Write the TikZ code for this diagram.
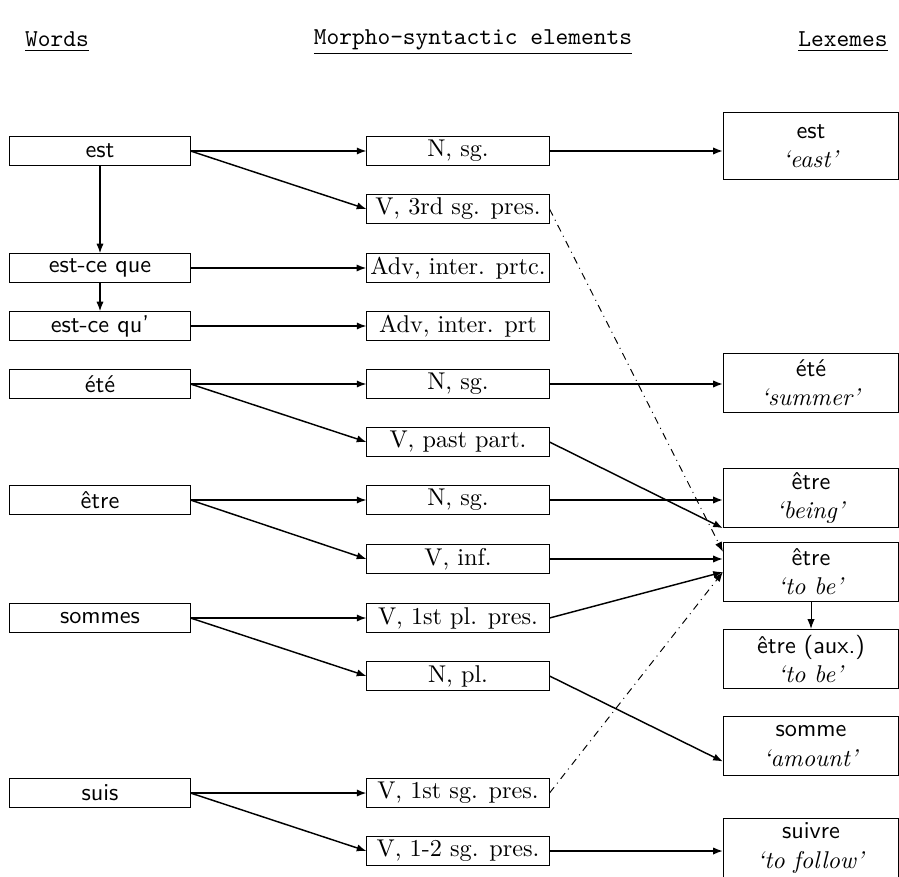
\documentclass[tikz,border=0pt]{standalone}
\usetikzlibrary{arrows.meta}
\begin{document}
\begin{tikzpicture}[x=0.0145cm, y=-0.0145cm]

		\tikzstyle{word} = [rectangle, draw, thin, font=\sffamily, minimum width=2.61cm, minimum height=0.41cm, inner sep=1pt]
		
		\tikzstyle{element} = [rectangle, draw, thin, minimum width=2.64cm, minimum height=0.42cm, inner sep=1.5pt]
		
		\tikzstyle{lexeme} = [rectangle, draw, thin, align=center, minimum width=2.54cm, minimum height=0.86cm, inner sep=1pt]
		
		\tikzstyle{heading} = [font=\ttfamily]
		
		\tikzstyle{links} = [-{Latex[length=4pt,width=3pt]}, semithick]
		
		\tikzstyle{farlinks} = [-{Latex[length=4pt,width=3pt]}, thin, dash dot]
		
		\useasboundingbox (0,0) rectangle (899,877);
		
		\node[heading] at (57,42) (hwords) {\underline{Words}};
		\node[heading] at (473,42) (helements) {\underline{Morpho-syntactic elements}};
		\node[heading] at (843,42) (hlexemes) {\underline{Lexemes}};
		
		% words
		\node[word] at (100,151) (est) {est};
		\node[word] at (100,268) (estceque) {est-ce que};
		\node[word] at (100,326) (estcequ) {est-ce qu'};
		\node[word] at (100,384) (ete) {été};
		\node[word] at (100,500) (etre) {être};
		\node[word] at (100,618) (sommes) {sommes};
		\node[word] at (100,793) (suis) {suis};
		
		% morpho-syntactic elements
		\node[element] at (458,151) (nsgA) {N, sg.};
		\node[element] at (458,209) (vthird) {V, 3rd sg. pres.};
		\node[element] at (458,268) (advA) {Adv, inter. prtc.};
		\node[element] at (458,326) (advB) {Adv, inter. prt};
		\node[element] at (458,384) (nsgB) {N, sg.};
		\node[element] at (458,442) (vpast) {V, past part.};
		\node[element] at (458,500) (nsgC) {N, sg.};
		\node[element] at (458,559) (vinf) {V, inf.};
		\node[element] at (458,618) (vfirstpl) {V, 1st pl. pres.};
		\node[element] at (458,676) (npl) {N, pl.};
		\node[element] at (458,793) (vfirstsg) {V, 1st sg. pres.};
		\node[element] at (458,851) (vonetwo) {V, 1-2 sg. pres.};
		
		% lexemes
		\node[lexeme, minimum height=0.96cm] at (811,146) (east) {\sffamily est\\ \textit{`east'}};
		\node[lexeme] at (811,383) (summer) {\sffamily été\\ \textit{`summer'}};
		\node[lexeme] at (811,498) (being) {\sffamily être\\ \textit{`being'}};
		\node[lexeme] at (811,572) (tobe) {\sffamily être\\ \textit{`to be'}};
		\node[lexeme] at (811,659) (aux) {\sffamily être (aux.)\\ \textit{`to be'}};
		\node[lexeme] at (811,746) (amount) {\sffamily somme\\ \textit{`amount'}};
		\node[lexeme] at (811,848) (follow) {\sffamily suivre\\ \textit{`to follow'}};
		
		\draw[links] (est) -- (estceque);
		\draw[links] (estceque) -- (estcequ);
		
		\draw[links] (est.east) -- (nsgA.west);
		\draw[links] (est.east) -- (vthird.west);
		\draw[links] (estceque) -- (advA);
		\draw[links] (estcequ) -- (advB);
		\draw[links] (ete.east) -- (nsgB.west);
		\draw[links] (ete.east) -- (vpast.west);
		\draw[links] (etre.east) -- (nsgC.west);
		\draw[links] (etre.east) -- (vinf.west);
		\draw[links] (sommes.east) -- (vfirstpl.west);
		\draw[links] (sommes.east) -- (npl.west);
		\draw[links] (suis.east) -- (vfirstsg.west);
		\draw[links] (suis.east) -- (vonetwo.west);
		
		\draw[links] (nsgA.east) -- (nsgA.east -| east.west);
		\draw[links] (nsgB.east) -- (nsgB.east -| summer.west);
		\draw[links] (nsgC.east) -- (nsgC.east -| being.west);
		\draw[links] (vpast.east) -- (being.south west);
		\draw[links] (vinf.east) -- (vinf.east -| tobe.west);
		\draw[links] (vfirstpl.east) -- (tobe.west);
		\draw[links] (npl.east) -- (amount.190);
		\draw[links] (vonetwo.east) -- (vonetwo.east -| follow.west);
		
		\draw[farlinks] (vthird.east) -- (tobe.167);
		\draw[farlinks] (vfirstsg.east) -- (tobe.west);
		
		\draw[links, thin] (tobe) -- (aux);
	\end{tikzpicture}
\end{document}
